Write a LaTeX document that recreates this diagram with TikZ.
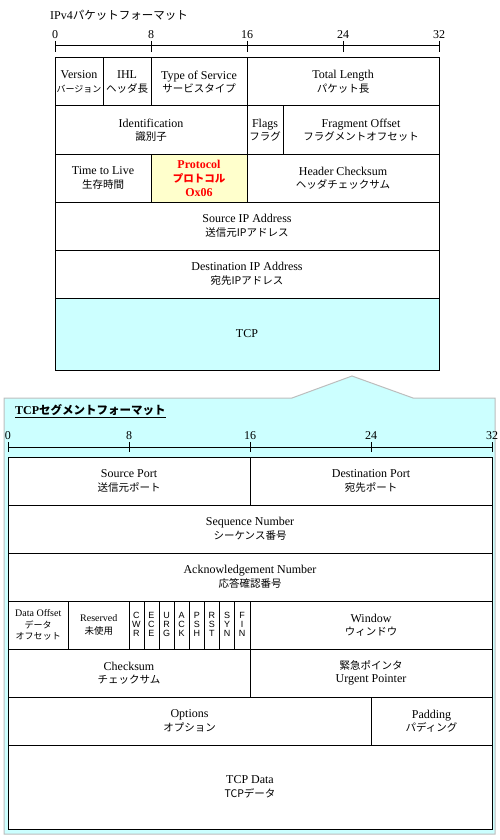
\documentclass[tikz,border=0pt]{standalone}
\usepackage{fontspec}
\setmainfont{Liberation Serif}
\newfontfamily\jp{Noto Sans CJK JP}
\newfontfamily\flagfont{Liberation Sans}

\definecolor{tcpcyan}{HTML}{CCFFFF}
\definecolor{protoyellow}{HTML}{FFFFCC}
\definecolor{panelgray}{HTML}{BDBDBD}

\newcommand{\jline}[1]{{\jp\fontsize{10.5}{13.5}\selectfont #1}}
\newcommand{\jsmall}[1]{{\jp\fontsize{9}{11.5}\selectfont #1}}

\tikzset{
    cellbox/.style={draw=black, line width=1pt, fill=white},
    celltext/.style={inner sep=0pt, align=center, font=\fontsize{12}{13.5}\selectfont},
    rulerline/.style={draw=black, line width=1pt},
    bitnum/.style={inner sep=0pt, font=\fontsize{12}{14}\selectfont},
    flagtext/.style={celltext, font=\flagfont\fontsize{9}{9}\selectfont},
    panel/.style={draw=panelgray, fill=tcpcyan, line width=1pt}
}

\begin{document}
\begin{tikzpicture}[x=1pt, y=-1pt]
    \useasboundingbox (0,0) rectangle (500,840);

    % IPv4 packet format
    \node[anchor=west, inner sep=0pt, font=\fontsize{12}{14}\selectfont] (iptitle) at (50,15)
        {IPv4{\jp\fontsize{11.5}{14}\selectfont パケットフォーマット}};

    \draw[rulerline] (55,46) -- (439,46);
    \foreach \b in {0,8,...,32} {
        \draw[rulerline] (55+12*\b,41) -- (55+12*\b,52);
        \node[bitnum] (ipbit\b) at (55+12*\b,35) {\b};
    }

    % row 1
    \draw[cellbox] (55,58) rectangle (103,106);
    \draw[cellbox] (103,58) rectangle (151,106);
    \draw[cellbox] (151,58) rectangle (247,106);
    \draw[cellbox] (247,58) rectangle (439,106);
    \node[celltext] (version) at (79,82) {Version\\\jsmall{バージョン}};
    \node[celltext] (ihl) at (127,82) {IHL\\\jline{ヘッダ長}};
    \node[celltext] (tos) at (199,82) {Type of Service\\\jline{サービスタイプ}};
    \node[celltext] (totlen) at (343,82) {Total Length\\\jline{パケット長}};

    % row 2
    \draw[cellbox] (55,106) rectangle (247,154);
    \draw[cellbox] (247,106) rectangle (283,154);
    \draw[cellbox] (283,106) rectangle (439,154);
    \node[celltext] (ident) at (151,130) {Identification\\\jline{識別子}};
    \node[celltext] (ipflags) at (265,130) {Flags\\\jline{フラグ}};
    \node[celltext] (fragoff) at (361,130) {Fragment Offset\\\jline{フラグメントオフセット}};

    % row 3
    \draw[cellbox] (55,154) rectangle (151,202);
    \draw[cellbox, fill=protoyellow] (151,154) rectangle (247,202);
    \draw[cellbox] (247,154) rectangle (439,202);
    \node[celltext] (ttl) at (103,178) {Time to Live\\\jline{生存時間}};
    \node[celltext, text=red, font=\bfseries\fontsize{12}{14}\selectfont] (proto) at (199,178)
        {Protocol\\{\jp\fontsize{10.5}{14}\selectfont プロトコル}\\Ox06};
    \node[celltext] (hdrsum) at (343,178) {Header Checksum\\\jline{ヘッダチェックサム}};

    % rows 4 to 6
    \draw[cellbox] (55,202) rectangle (439,250);
    \draw[cellbox] (55,250) rectangle (439,298);
    \draw[cellbox, fill=tcpcyan] (55,298) rectangle (439,370);
    \node[celltext] (srcip) at (247,226) {Source IP Address\\\jline{送信元IPアドレス}};
    \node[celltext] (dstip) at (247,274) {Destination IP Address\\\jline{宛先IPアドレス}};
    \node[celltext] (tcp) at (247,334) {TCP};

    % TCP segment format panel
    \filldraw[panel] (4,398) -- (292,398) -- (352,376) -- (413,398) -- (495,398)
        -- (495,834) -- (4,834) -- cycle;
    \node[anchor=west, inner sep=0pt, font=\bfseries\fontsize{12}{14}\selectfont] (tcptitle) at (15,411)
        {\underline{TCP{\jp\fontsize{11.5}{14}\selectfont セグメントフォーマット}}};

    \draw[rulerline] (8,447) -- (492,447);
    \foreach \b in {0,8,...,32} {
        \draw[rulerline] (8+15.125*\b,442) -- (8+15.125*\b,452);
        \node[bitnum] (tcpbit\b) at (8+15.125*\b,436) {\b};
    }

    % ports, sequence, acknowledgement
    \draw[cellbox] (8,457) rectangle (250,505);
    \draw[cellbox] (250,457) rectangle (492,505);
    \draw[cellbox] (8,505) rectangle (492,553);
    \draw[cellbox] (8,553) rectangle (492,601);
    \node[celltext] (srcport) at (129,481) {Source Port\\\jline{送信元ポート}};
    \node[celltext] (dstport) at (371,481) {Destination Port\\\jline{宛先ポート}};
    \node[celltext] (seq) at (250,529) {Sequence Number\\\jline{シーケンス番号}};
    \node[celltext] (ack) at (250,577) {Acknowledgement Number\\\jline{応答確認番号}};

    % offset, reserved, flags, window
    \draw[cellbox] (8,601) rectangle (68.5,649);
    \draw[cellbox] (68.5,601) rectangle (129,649);
    \draw[cellbox] (250,601) rectangle (492,649);
    \node[celltext, font=\fontsize{10}{11.5}\selectfont] (dataoff) at (38.25,625)
        {Data Offset\\\jsmall{データ}\\\jsmall{オフセット}};
    \node[celltext, font=\fontsize{10}{13}\selectfont] (reserved) at (98.75,625)
        {Reserved\\{\jp\fontsize{9.5}{13}\selectfont 未使用}};
    \foreach \p/\q/\r [count=\i from 8] in {C/W/R, E/C/E, U/R/G, A/C/K, P/S/H, R/S/T, S/Y/N, F/I/N} {
        \draw[cellbox] (8+15.125*\i,601) rectangle (8+15.125*\i+15.125,649);
        \node[flagtext] (flag\i) at (8+15.125*\i+7.3,624) {\p\\\q\\\r};
    }
    \node[celltext] (window) at (371,625) {Window\\\jline{ウィンドウ}};

    % checksum, urgent pointer, options, data
    \draw[cellbox] (8,649) rectangle (250,697);
    \draw[cellbox] (250,649) rectangle (492,697);
    \draw[cellbox] (8,697) rectangle (371,745);
    \draw[cellbox] (371,697) rectangle (492,745);
    \draw[cellbox] (8,745) rectangle (492,829);
    \node[celltext] (checksum) at (129,673) {Checksum\\\jline{チェックサム}};
    \node[celltext] (urgent) at (371,673) {\jline{緊急ポインタ}\\Urgent Pointer};
    \node[celltext] (options) at (189.5,721) {Options\\\jline{オプション}};
    \node[celltext] (padding) at (431.5,721) {Padding\\\jline{パディング}};
    \node[celltext] (tcpdata) at (250,787) {TCP Data\\\jline{TCPデータ}};

\end{tikzpicture}
\end{document}
